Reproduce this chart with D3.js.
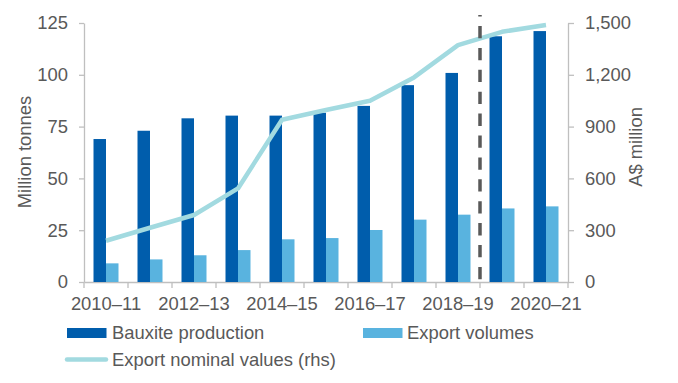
<!DOCTYPE html>
<html>
<head>
<meta charset="utf-8">
<script src="https://cdn.jsdelivr.net/npm/d3@7"></script>
<style>
  html, body { margin: 0; padding: 0; background: #fff; }
  svg { display: block; font-family: "Liberation Sans", Arial, sans-serif; }
</style>
</head>
<body>
<svg id="chart" width="678" height="383"></svg>
<script>
const categories = ["2010–11","2011–12","2012–13","2013–14","2014–15","2015–16","2016–17","2017–18","2018–19","2019–20","2020–21"];
const bauxiteProduction = [69.0, 73.0, 79.0, 80.3, 80.3, 81.7, 85.0, 95.0, 100.9, 118.6, 121.1];
const exportVolumes = [9.0, 10.9, 12.9, 15.4, 20.6, 21.2, 25.1, 30.1, 32.5, 35.5, 36.5];
const exportNominalValues = [239, 314, 388, 542, 940, 996, 1050, 1185, 1372, 1449, 1488];
const leftTicks = [0, 25, 50, 75, 100, 125];
const rightTicks = [0, 300, 600, 900, 1200, 1500];
const labelledCategories = ["2010–11","2012–13","2014–15","2016–17","2018–19","2020–21"];
const forecastStart = "2019–20";
const seriesNames = ["Bauxite production", "Export volumes", "Export nominal values (rhs)"];

const textColor = "#595959";
const axisColor = "#BFBFBF";
const darkBlue = "#005DAC";
const lightBlue = "#59B3DF";
const lineColor = "#A2DAE0";
const fontSize = "18.4px";

const svg = d3.select("#chart");
const plotLeft = 84, plotRight = 568, plotTop = 23, plotBottom = 282;

const x = d3.scaleBand().domain(categories).range([plotLeft, plotRight])
  .paddingInner(0.432).paddingOuter(0.216);
const x1 = d3.scaleBand().domain(["prod", "exp"]).range([0, x.bandwidth()]);
const yL = d3.scaleLinear().domain([0, 125]).range([plotBottom, plotTop]);
const yR = d3.scaleLinear().domain([0, 1500]).range([plotBottom, plotTop]);

// Axes
const gL = svg.append("g").attr("transform", `translate(${plotLeft},0)`)
  .call(d3.axisLeft(yL).tickValues(leftTicks).tickSize(5).tickSizeOuter(0).tickPadding(11));
const gR = svg.append("g").attr("transform", `translate(${plotRight},0)`)
  .call(d3.axisRight(yR).tickValues(rightTicks).tickFormat(d3.format(",")).tickSize(6).tickSizeOuter(0).tickPadding(11));
const gB = svg.append("g").attr("transform", `translate(0,${plotBottom})`)
  .call(d3.axisBottom(x).tickValues(labelledCategories).tickSize(0).tickSizeOuter(0).tickPadding(15));

[gL, gR, gB].forEach(g => {
  g.selectAll("path.domain").attr("stroke", axisColor).attr("stroke-width", 1.3);
  g.selectAll(".tick line").attr("stroke", axisColor).attr("stroke-width", 1.3);
  g.selectAll(".tick text").attr("fill", textColor).style("font-size", fontSize)
    .style("font-family", "'Liberation Sans', Arial, sans-serif");
});

// category boundary ticks
const boundaries = d3.range(categories.length + 1).map(i => x.range()[0] + i * x.step());
svg.append("g").selectAll("line").data(boundaries).join("line")
  .attr("x1", d => d).attr("x2", d => d)
  .attr("y1", plotBottom).attr("y2", plotBottom + 6)
  .attr("stroke", axisColor).attr("stroke-width", 1.3);

// Bars
svg.append("g").selectAll("rect").data(categories).join("rect")
  .attr("x", d => x(d) + x1("prod"))
  .attr("width", x1.bandwidth())
  .attr("y", (d, i) => yL(bauxiteProduction[i]))
  .attr("height", (d, i) => yL(0) - yL(bauxiteProduction[i]))
  .attr("fill", darkBlue);
svg.append("g").selectAll("rect").data(categories).join("rect")
  .attr("x", d => x(d) + x1("exp"))
  .attr("width", x1.bandwidth())
  .attr("y", (d, i) => yL(exportVolumes[i]))
  .attr("height", (d, i) => yL(0) - yL(exportVolumes[i]))
  .attr("fill", lightBlue);

// Line
const line = d3.line()
  .x((d, i) => x(categories[i]) + x.bandwidth() / 2)
  .y(d => yR(d));
svg.append("path").datum(exportNominalValues)
  .attr("d", line)
  .attr("fill", "none")
  .attr("stroke", lineColor)
  .attr("stroke-width", 4.5)
  .attr("stroke-linejoin", "round");

// Forecast divider
const divX = x(forecastStart) - x.step() * x.paddingInner() / 2;
svg.append("line")
  .attr("x1", divX).attr("x2", divX)
  .attr("y1", 15).attr("y2", plotBottom)
  .attr("stroke", "#595959").attr("stroke-width", 3.5)
  .attr("stroke-dasharray", "12.3,9.6").attr("stroke-dashoffset", 10.9);

// Axis titles
svg.append("text").attr("transform", "translate(31,152) rotate(-90)")
  .attr("text-anchor", "middle").attr("fill", textColor).style("font-size", fontSize)
  .text("Million tonnes");
svg.append("text").attr("transform", "translate(642,147) rotate(-90)")
  .attr("text-anchor", "middle").attr("fill", textColor).style("font-size", fontSize)
  .text("A$ million");

// Legend
const lg = svg.append("g");
lg.append("rect").attr("x", 67).attr("y", 328).attr("width", 39.5).attr("height", 10).attr("fill", darkBlue);
lg.append("text").attr("x", 112).attr("y", 338.5).attr("fill", textColor).style("font-size", fontSize).text(seriesNames[0]);
lg.append("rect").attr("x", 363).attr("y", 328).attr("width", 39.5).attr("height", 10).attr("fill", lightBlue);
lg.append("text").attr("x", 407).attr("y", 338.5).attr("fill", textColor).style("font-size", fontSize).text(seriesNames[1]);
lg.append("line").attr("x1", 67).attr("x2", 106).attr("y1", 359.5).attr("y2", 359.5)
  .attr("stroke", lineColor).attr("stroke-width", 4.5).attr("stroke-linecap", "round");
lg.append("text").attr("x", 112).attr("y", 365.5).attr("fill", textColor).style("font-size", fontSize).text(seriesNames[2]);
</script>
</body>
</html>
